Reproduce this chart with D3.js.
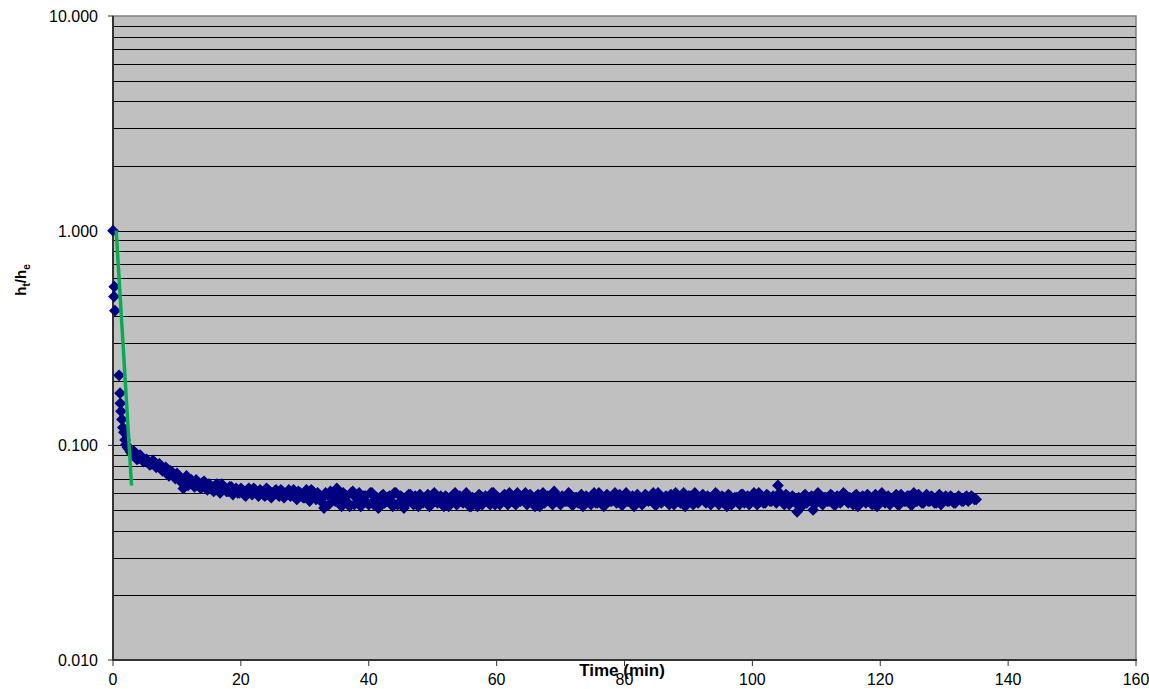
<!DOCTYPE html>
<html>
<head>
<meta charset="utf-8">
<script src="https://cdn.jsdelivr.net/npm/d3@7"></script>
<style>
  body { margin: 0; background: #fff; }
  svg { display: block; font-family: "Liberation Sans", Arial, sans-serif; }
</style>
</head>
<body>
<div id="chart"></div>
<script>
// Axis names
var xAxisName = "Time (min)";

// Start-up readings (minutes, h_t/h_e)
var earlyTimes = [0, 0.2, 0.15, 0.3, 0.95, 1.1, 1.15, 1.25, 1.4, 1.55, 1.7, 1.9, 2.05, 2.25, 2.5, 2.75];
var earlyValues = [1.0, 0.548, 0.493, 0.424, 0.212, 0.175, 0.157, 0.144, 0.132, 0.121, 0.115, 0.106, 0.101, 0.098, 0.096, 0.093];

// Logged readings, on the half minute from 3 min
var logStart = 3;
var logStep = 0.5;
var logValues = [
  0.091, 0.089, 0.087, 0.088, 0.085, 0.084, 0.082, 0.083, 0.080, 0.078,
  0.077, 0.075, 0.076, 0.073, 0.074, 0.071, 0.063, 0.072, 0.068, 0.066,
  0.069, 0.066, 0.067, 0.064, 0.066, 0.063, 0.065, 0.062, 0.066, 0.063,
  0.061, 0.064, 0.062, 0.060, 0.063, 0.059, 0.062, 0.061, 0.063, 0.060,
  0.062, 0.059, 0.063, 0.061, 0.060, 0.062, 0.058, 0.061, 0.059, 0.062,
  0.060, 0.058, 0.061, 0.059, 0.057, 0.060, 0.062, 0.058, 0.060, 0.056,
  0.051, 0.059, 0.061, 0.057, 0.063, 0.055, 0.060, 0.058, 0.052, 0.061,
  0.057, 0.060, 0.055, 0.058, 0.053, 0.060, 0.056, 0.051, 0.058, 0.054,
  0.057, 0.055, 0.060, 0.053, 0.058, 0.051, 0.056, 0.059, 0.053, 0.057,
  0.059, 0.054, 0.056, 0.052, 0.059, 0.055, 0.057, 0.053, 0.058, 0.052,
  0.056, 0.060, 0.054, 0.057, 0.055, 0.058, 0.052, 0.056, 0.052, 0.058,
  0.055, 0.057, 0.053, 0.060, 0.056, 0.053, 0.058, 0.055, 0.060, 0.056,
  0.053, 0.058, 0.056, 0.060, 0.055, 0.057, 0.052, 0.059, 0.056, 0.054,
  0.058, 0.055, 0.061, 0.056, 0.053, 0.057, 0.055, 0.059, 0.053, 0.057,
  0.056, 0.052, 0.058, 0.055, 0.057, 0.054, 0.060, 0.056, 0.053, 0.058,
  0.055, 0.060, 0.056, 0.053, 0.058, 0.055, 0.057, 0.052, 0.059, 0.056,
  0.054, 0.058, 0.056, 0.060, 0.053, 0.057, 0.055, 0.058, 0.053, 0.056,
  0.060, 0.055, 0.057, 0.052, 0.058, 0.056, 0.060, 0.054, 0.057, 0.055,
  0.058, 0.053, 0.056, 0.059, 0.055, 0.057, 0.052, 0.058, 0.055, 0.057,
  0.053, 0.059, 0.056, 0.053, 0.058, 0.055, 0.060, 0.056, 0.054, 0.058,
  0.055, 0.057, 0.065, 0.056, 0.053, 0.058, 0.055, 0.057, 0.049, 0.056,
  0.058, 0.054, 0.057, 0.050, 0.056, 0.059, 0.053, 0.057, 0.055, 0.058,
  0.053, 0.057, 0.055, 0.059, 0.054, 0.056, 0.058, 0.052, 0.057, 0.055,
  0.059, 0.054, 0.056, 0.052, 0.058, 0.055, 0.057, 0.053, 0.056, 0.059,
  0.053, 0.057, 0.055, 0.058, 0.053, 0.056, 0.059, 0.054, 0.057, 0.055,
  0.058, 0.054, 0.056, 0.053, 0.057, 0.055, 0.058, 0.054, 0.056, 0.057,
  0.055, 0.058, 0.056, 0.057, 0.056
];

// Logged readings in between, on the quarter from 3.25 min
var midStart = 3.25;
var midValues = [
  0.094, 0.086, 0.090, 0.084, 0.086, 0.081, 0.085, 0.079, 0.082, 0.076,
  0.079, 0.072, 0.075, 0.070, 0.072, 0.067, 0.070, 0.065, 0.069, 0.064,
  0.067, 0.063, 0.068, 0.062, 0.065, 0.061, 0.066, 0.060, 0.064, 0.061,
  0.064, 0.059, 0.063, 0.060, 0.062, 0.058, 0.063, 0.059, 0.062, 0.058,
  0.061, 0.058, 0.062, 0.057, 0.061, 0.059, 0.062, 0.057, 0.060, 0.058,
  0.062, 0.056, 0.060, 0.057, 0.062, 0.055, 0.061, 0.056, 0.059, 0.054,
  0.060, 0.053, 0.058, 0.055, 0.061, 0.052, 0.059, 0.054, 0.060, 0.053,
  0.059, 0.052, 0.058, 0.054, 0.060, 0.053, 0.057, 0.052, 0.059, 0.055,
  0.058, 0.052, 0.060, 0.054, 0.057, 0.053, 0.059, 0.055, 0.058, 0.052,
  0.057, 0.055, 0.059, 0.053, 0.060, 0.054, 0.058, 0.052, 0.057, 0.055,
  0.059, 0.053, 0.058, 0.054, 0.060, 0.052, 0.057, 0.055, 0.059, 0.053,
  0.058, 0.054, 0.060, 0.053, 0.057, 0.055, 0.059, 0.053, 0.058, 0.054,
  0.060, 0.055, 0.057, 0.053, 0.059, 0.054, 0.058, 0.052, 0.060, 0.055,
  0.057, 0.053, 0.059, 0.054, 0.058, 0.055, 0.060, 0.053, 0.057, 0.054,
  0.059, 0.055, 0.057, 0.053, 0.060, 0.054, 0.058, 0.052, 0.059, 0.055,
  0.057, 0.054, 0.059, 0.053, 0.060, 0.055, 0.058, 0.054, 0.057, 0.053,
  0.059, 0.055, 0.058, 0.053, 0.060, 0.054, 0.057, 0.055, 0.059, 0.053,
  0.057, 0.054, 0.060, 0.055, 0.058, 0.053, 0.057, 0.055, 0.059, 0.054,
  0.057, 0.055, 0.060, 0.053, 0.058, 0.054, 0.059, 0.053, 0.057, 0.055,
  0.059, 0.054, 0.058, 0.055, 0.060, 0.053, 0.057, 0.054, 0.059, 0.055,
  0.058, 0.054, 0.060, 0.055, 0.059, 0.053, 0.058, 0.054, 0.057, 0.052,
  0.059, 0.055, 0.058, 0.053, 0.060, 0.054, 0.057, 0.055, 0.059, 0.053,
  0.058, 0.054, 0.060, 0.055, 0.057, 0.053, 0.059, 0.055, 0.058, 0.054,
  0.057, 0.053, 0.059, 0.055, 0.060, 0.054, 0.058, 0.055, 0.057, 0.053,
  0.059, 0.055, 0.058, 0.053, 0.060, 0.055, 0.057, 0.054, 0.059, 0.055,
  0.057, 0.054, 0.059, 0.055, 0.058, 0.055, 0.057, 0.054, 0.058, 0.055,
  0.057, 0.055, 0.058, 0.056
];

// Fitted straight line (green)
var fitTimes = [0.5, 2.9];
var fitValues = [1.0, 0.065];

// Tick labels
var xTicks = [0, 20, 40, 60, 80, 100, 120, 140, 160];
var yTicks = [10, 1, 0.1, 0.01];

var svgWidth = 1149;
var svgHeight = 689;

var plot = { left: 113, right: 1136, top: 16, bottom: 660 };

var svg = d3.select("#chart")
    .append("svg")
    .attr("width", svgWidth)
    .attr("height", svgHeight);

var xScale = d3.scaleLinear()
    .domain([0, 160])
    .range([plot.left, plot.right]);

var yScale = d3.scaleLog()
    .domain([0.01, 10])
    .range([plot.bottom, plot.top]);

// Plot background
svg.append("rect")
    .attr("x", plot.left)
    .attr("y", plot.top)
    .attr("width", plot.right - plot.left)
    .attr("height", plot.bottom - plot.top)
    .attr("fill", "#c0c0c0")
    .attr("stroke", "#808080")
    .attr("stroke-width", 1.5);

// Grid lines at every log tick
var gridValues = yScale.ticks().filter(v => v > 0.01 && v < 10);
svg.append("g").selectAll("line")
    .data(gridValues)
    .enter()
    .append("line")
    .attr("x1", plot.left)
    .attr("x2", plot.right)
    .attr("y1", d => Math.round(yScale(d)) + 0.5)
    .attr("y2", d => Math.round(yScale(d)) + 0.5)
    .attr("stroke", "#000")
    .attr("stroke-width", 1);

// Axis lines
var axisColor = "#333";
svg.append("line")
    .attr("x1", plot.left).attr("x2", plot.left)
    .attr("y1", plot.top).attr("y2", plot.bottom + 1)
    .attr("stroke", axisColor).attr("stroke-width", 2);
svg.append("line")
    .attr("x1", plot.left - 1).attr("x2", plot.right + 1)
    .attr("y1", plot.bottom).attr("y2", plot.bottom)
    .attr("stroke", axisColor).attr("stroke-width", 2);

// Y ticks and labels
var yAxis = svg.append("g");
yAxis.selectAll("line")
    .data(yTicks)
    .enter()
    .append("line")
    .attr("x1", plot.left - 5)
    .attr("x2", plot.left)
    .attr("y1", d => yScale(d))
    .attr("y2", d => yScale(d))
    .attr("stroke", axisColor)
    .attr("stroke-width", 1);
yAxis.selectAll("text")
    .data(yTicks)
    .enter()
    .append("text")
    .attr("x", plot.left - 15)
    .attr("y", d => yScale(d) + 6)
    .attr("text-anchor", "end")
    .style("font-size", "16px")
    .attr("fill", "#000")
    .text(d => d3.format(".3f")(d));

// X ticks and labels
var xAxis = svg.append("g");
xAxis.selectAll("line")
    .data(xTicks)
    .enter()
    .append("line")
    .attr("x1", d => xScale(d))
    .attr("x2", d => xScale(d))
    .attr("y1", plot.bottom)
    .attr("y2", plot.bottom + 6)
    .attr("stroke", axisColor)
    .attr("stroke-width", 1);
xAxis.selectAll("text")
    .data(xTicks)
    .enter()
    .append("text")
    .attr("x", d => xScale(d))
    .attr("y", plot.bottom + 25)
    .attr("text-anchor", "middle")
    .style("font-size", "16px")
    .attr("fill", "#000")
    .text(d => d);

// Data points
var points = [];
earlyTimes.forEach((t, i) => points.push({ t: t, v: earlyValues[i] }));
logValues.forEach((v, i) => points.push({ t: logStart + i * logStep, v: v }));
midValues.forEach((v, i) => points.push({ t: midStart + i * logStep, v: v }));

var diamond = d3.symbol().type(d3.symbolDiamond2).size(88);
svg.append("g").selectAll("path")
    .data(points)
    .enter()
    .append("path")
    .attr("d", diamond)
    .attr("transform", d => `translate(${xScale(d.t)}, ${yScale(d.v)})`)
    .attr("fill", "#000080");

// Fitted line
var fitData = fitTimes.map((t, i) => ({ t: t, v: fitValues[i] }));
svg.append("path")
    .datum(fitData)
    .attr("d", d3.line().x(d => xScale(d.t)).y(d => yScale(d.v)))
    .attr("fill", "none")
    .attr("stroke", "#00b050")
    .attr("stroke-width", 3.5);

// X axis title
svg.append("text")
    .attr("x", 622)
    .attr("y", 676)
    .attr("text-anchor", "middle")
    .style("font-size", "17px")
    .style("font-weight", "bold")
    .text(xAxisName);

// Y axis title h_t/h_e
var yTitle = svg.append("text")
    .attr("transform", "translate(26, 280) rotate(-90)")
    .attr("text-anchor", "middle")
    .style("font-size", "15px")
    .style("font-weight", "bold");
yTitle.append("tspan").text("h");
yTitle.append("tspan").attr("dy", 4).style("font-size", "10px").text("t");
yTitle.append("tspan").attr("dy", -4).text("/h");
yTitle.append("tspan").attr("dy", 4).style("font-size", "10px").text("e");
</script>
</body>
</html>
